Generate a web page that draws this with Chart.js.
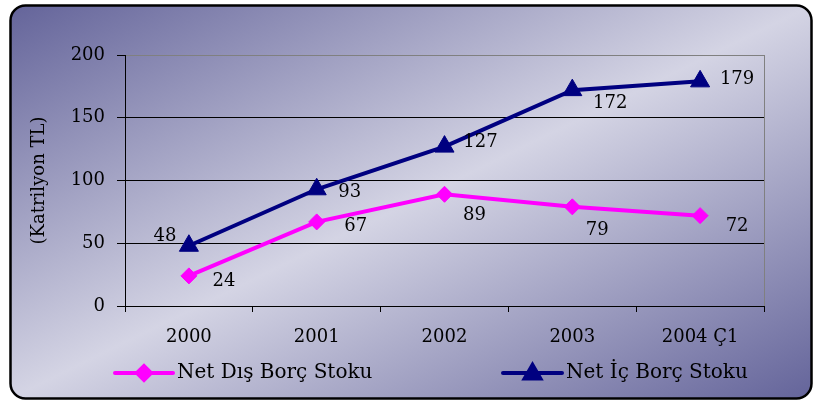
<!DOCTYPE html>
<html>
<head>
<meta charset="utf-8">
<script src="https://cdn.jsdelivr.net/npm/chart.js@4/dist/chart.umd.min.js"></script>
<style>
  html, body { margin: 0; padding: 0; background: #fff; }
  #wrap { width: 813px; height: 401px; }
</style>
</head>
<body>
<div id="wrap"><canvas id="c" width="813" height="401"></canvas></div>
<script>
// Debt stock, quadrillion TL
const categories = ['2000', '2001', '2002', '2003', '2004 Ç1'];
const disBorc = [24, 67, 89, 79, 72];      // Net Dış Borç Stoku
const icBorc = [48, 93, 127, 172, 179];    // Net İç Borç Stoku
const yTicks = [0, 50, 100, 150, 200];
const seriesNames = ['Net Dış Borç Stoku', 'Net İç Borç Stoku'];
const axisTitle = '(Katrilyon TL)';

const FONT = "'DejaVu Serif', serif";
const PINK = '#ff00ff';
const NAVY = '#000080';

// where each value label sits relative to its point (dx, dy)
const labelOffsets = [
  [[35, 5], [39, 4], [30, 21], [25, 23], [37, 11]],
  [[-24, -9], [33, 3], [36, -4], [38, 13], [37, -2]]
];

// rounded panel with a diagonal dark-light-dark gradient
const panelPlugin = {
  id: 'panel',
  beforeDraw(chart) {
    const ctx = chart.ctx;
    const x0 = 10.5, y0 = 5.5, w = 801, h = 393, r = 15;
    ctx.save();
    ctx.fillStyle = '#fff';
    ctx.fillRect(0, 0, chart.width, chart.height);
    ctx.beginPath();
    ctx.moveTo(x0 + r, y0);
    ctx.lineTo(x0 + w - r, y0);
    ctx.arcTo(x0 + w, y0, x0 + w, y0 + r, r);
    ctx.lineTo(x0 + w, y0 + h - r);
    ctx.arcTo(x0 + w, y0 + h, x0 + w - r, y0 + h, r);
    ctx.lineTo(x0 + r, y0 + h);
    ctx.arcTo(x0, y0 + h, x0, y0 + h - r, r);
    ctx.lineTo(x0, y0 + r);
    ctx.arcTo(x0, y0, x0 + r, y0, r);
    ctx.closePath();
    ctx.save();
    ctx.translate(x0, y0);
    ctx.scale(w, h);
    const g = ctx.createLinearGradient(0, 0, 1, 1);
    g.addColorStop(0, '#64649a');
    g.addColorStop(0.5, '#d4d4e4');
    g.addColorStop(1, '#64649a');
    ctx.fillStyle = g;
    ctx.fill();
    ctx.restore();
    ctx.lineWidth = 2.5;
    ctx.strokeStyle = '#000';
    ctx.stroke();
    ctx.restore();
  },
  beforeDatasetsDraw(chart) {
    // grey frame on the right side of the plot
    const { ctx, chartArea: a } = chart;
    ctx.save();
    ctx.strokeStyle = '#808080';
    ctx.lineWidth = 1;
    const xr = Math.round(a.right) + 0.5;
    ctx.beginPath();
    ctx.moveTo(xr, a.top);
    ctx.lineTo(xr, a.bottom);
    ctx.stroke();
    ctx.restore();
  }
};

// value labels next to each point
const valueLabelPlugin = {
  id: 'valueLabels',
  afterDatasetsDraw(chart) {
    const ctx = chart.ctx;
    ctx.save();
    ctx.font = '18px ' + FONT;
    ctx.fillStyle = '#000';
    ctx.textAlign = 'center';
    ctx.textBaseline = 'middle';
    chart.data.datasets.forEach((ds, di) => {
      const meta = chart.getDatasetMeta(di);
      meta.data.forEach((pt, i) => {
        const [dx, dy] = labelOffsets[di][i];
        ctx.fillText(String(ds.data[i]), pt.x + dx, pt.y + dy);
      });
    });
    ctx.restore();
  }
};

// legend below the plot: line sample with marker, then the series name
const legendPlugin = {
  id: 'lineLegend',
  afterDraw(chart) {
    const ctx = chart.ctx;
    const items = [
      { x: 115, len: 58, ds: chart.data.datasets[0], radius: 7 },
      { x: 503, len: 59, ds: chart.data.datasets[1], radius: 9 }
    ];
    const y = 373;
    ctx.save();
    items.forEach(it => {
      ctx.strokeStyle = it.ds.borderColor;
      ctx.lineWidth = it.ds.borderWidth;
      ctx.lineCap = 'round';
      ctx.beginPath();
      ctx.moveTo(it.x, y);
      ctx.lineTo(it.x + it.len, y);
      ctx.stroke();
      ctx.fillStyle = it.ds.pointBackgroundColor;
      ctx.strokeStyle = it.ds.pointBorderColor;
      Chart.helpers.drawPoint(ctx, {
        pointStyle: it.ds.pointStyle,
        radius: it.radius,
        rotation: 0,
        borderWidth: 1
      }, it.x + it.len / 2, y + (it.ds.pointStyle === 'triangle' ? 1 : 0));
      ctx.fillStyle = '#000';
      ctx.font = '20px ' + FONT;
      ctx.textAlign = 'left';
      ctx.textBaseline = 'middle';
      ctx.fillText(it.ds.label, it.x + it.len + 4, y);
    });
    ctx.restore();
  }
};

new Chart(document.getElementById('c'), {
  type: 'line',
  data: {
    labels: categories,
    datasets: [
      {
        label: seriesNames[0],
        data: disBorc,
        borderColor: PINK,
        backgroundColor: PINK,
        pointBackgroundColor: PINK,
        pointBorderColor: PINK,
        borderWidth: 4,
        pointStyle: 'rectRot',
        pointRadius: 8,
        pointBorderWidth: 1,
        tension: 0,
        order: 2
      },
      {
        label: seriesNames[1],
        data: icBorc,
        borderColor: NAVY,
        backgroundColor: NAVY,
        pointBackgroundColor: NAVY,
        pointBorderColor: NAVY,
        borderWidth: 4,
        pointStyle: 'triangle',
        pointRadius: 11,
        pointBorderWidth: 1,
        tension: 0,
        order: 1
      }
    ]
  },
  options: {
    responsive: false,
    animation: false,
    devicePixelRatio: 1,
    layout: { padding: { left: 0, top: 55, right: 49, bottom: 50 } },
    plugins: {
      legend: { display: false },
      tooltip: { enabled: false },
      title: { display: false }
    },
    scales: {
      x: {
        type: 'category',
        offset: true,
        afterFit(s) { s.height = 45; },
        grid: {
          display: true,
          offset: true,
          drawOnChartArea: false,
          drawTicks: true,
          tickLength: 6,
          color: '#000',
          lineWidth: 1
        },
        border: { display: true, color: '#000', width: 1 },
        ticks: {
          color: '#000',
          font: { family: FONT, size: 18 },
          padding: 15,
          maxRotation: 0,
          autoSkip: false
        }
      },
      y: {
        min: 0,
        max: 200,
        afterFit(s) { s.width = 125; },
        afterBuildTicks(s) { s.ticks = yTicks.map(v => ({ value: v })); },
        grid: {
          color: c => (c.tick && c.tick.value === 200 ? '#808080' : '#000'),
          tickColor: '#000',
          lineWidth: 1,
          tickLength: 8,
          drawTicks: true
        },
        border: { display: true, color: '#000', width: 1 },
        ticks: {
          color: '#000',
          font: { family: FONT, size: 18 },
          padding: 12
        },
        title: {
          display: true,
          text: axisTitle,
          color: '#000',
          font: { family: FONT, size: 18 },
          padding: { top: 29, bottom: 0 }
        }
      }
    }
  },
  plugins: [panelPlugin, valueLabelPlugin, legendPlugin]
});
</script>
</body>
</html>
